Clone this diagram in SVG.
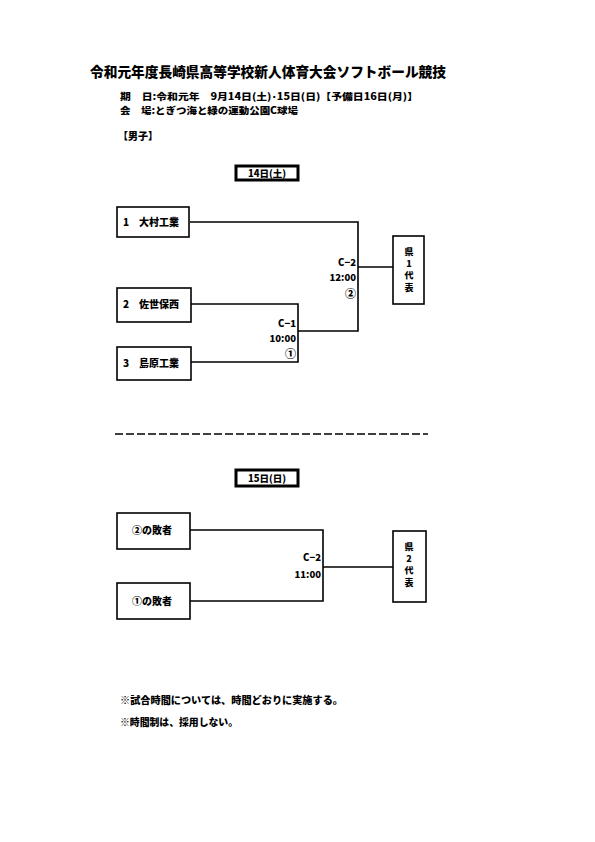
<svg xmlns="http://www.w3.org/2000/svg" width="595" height="842" viewBox="0 0 595 842">
<style>
text{font-family:"Noto Sans CJK JP","Liberation Sans",sans-serif;font-weight:900;fill:#000}
.t{font-size:14px}
.s{font-size:10px}
.h{font-size:9.5px}
.n{font-size:9.5px}
.v{font-size:9px}
.c{font-size:11px}
.box{fill:#fff;stroke:#000;stroke-width:1.6}
.day{fill:#fff;stroke:#000;stroke-width:3}
.ln{fill:none;stroke:#000;stroke-width:1.6}
.r{text-anchor:end}
.m{text-anchor:middle}
</style>
<rect width="595" height="842" fill="#fff"/>
<g id="header">
<text class="t" x="90" y="77" textLength="356" lengthAdjust="spacingAndGlyphs">令和元年度長崎県高等学校新人体育大会ソフトボール競技</text>
<text class="h" x="120" y="100" textLength="298" lengthAdjust="spacingAndGlyphs">期　日:令和元年　9月14日(土)･15日(日)【予備日16日(月)】</text>
<text class="h" x="120" y="114" textLength="178" lengthAdjust="spacingAndGlyphs">会　場:とぎつ海と緑の運動公園C球場</text>
<text class="s" x="118" y="140">【男子】</text>
</g>
<g id="day1">
<rect class="day" x="236" y="166" width="62" height="14"/>
<text class="n m" x="267" y="177">14日(土)</text>
</g>
<g id="connectors">
<polyline class="ln" points="190,222 358,222 358,331 298,331"/>
<polyline class="ln" points="191,304 298,304 298,362 191,362"/>
<line class="ln" x1="358" y1="267" x2="393" y2="267"/>
<polyline class="ln" points="190,530 323,530 323,601 190,601"/>
<line class="ln" x1="323" y1="567" x2="393" y2="567"/>
<line x1="115" y1="434" x2="428" y2="434" stroke="#000" stroke-width="1.6" stroke-dasharray="8,3"/>
</g>
<g id="team1">
<rect class="box" x="117" y="207" width="72" height="30"/>
<text class="s" x="123" y="226">1　大村工業</text>
</g>
<g id="team2">
<rect class="box" x="117" y="288" width="74" height="34"/>
<text class="s" x="123" y="308">2　佐世保西</text>
</g>
<g id="team3">
<rect class="box" x="117" y="347" width="74" height="33"/>
<text class="s" x="123" y="367">3　島原工業</text>
</g>
<g id="match1">
<text class="n r" x="296" y="327">C−1</text>
<text class="n r" x="296" y="342">10:00</text>
<text class="c r" x="296" y="358">①</text>
</g>
<g id="match2">
<text class="n r" x="356" y="266">C−2</text>
<text class="n r" x="356" y="281">12:00</text>
<text class="c r" x="356" y="298">②</text>
</g>
<g id="rep1">
<rect class="box" x="393" y="236" width="31" height="68"/>
<text class="v m" x="409" y="255">県</text>
<text class="v m" x="409" y="267">1</text>
<text class="v m" x="409" y="279">代</text>
<text class="v m" x="409" y="291">表</text>
</g>
<g id="day2">
<rect class="day" x="236" y="470" width="62" height="16"/>
<text class="n m" x="267" y="482">15日(日)</text>
</g>
<g id="loser2">
<rect class="box" x="117" y="513" width="73" height="36"/>
<text class="s m" x="152" y="534">②の敗者</text>
</g>
<g id="loser1">
<rect class="box" x="117" y="583" width="73" height="36"/>
<text class="s m" x="152" y="605">①の敗者</text>
</g>
<g id="match3">
<text class="n r" x="321" y="561">C−2</text>
<text class="n r" x="321" y="578">11:00</text>
</g>
<g id="rep2">
<rect class="box" x="393" y="531" width="33" height="71"/>
<text class="v m" x="409" y="550">県</text>
<text class="v m" x="409" y="562">2</text>
<text class="v m" x="409" y="574">代</text>
<text class="v m" x="409" y="586">表</text>
</g>
<g id="notes">
<text class="s" x="120" y="704" textLength="223" lengthAdjust="spacingAndGlyphs">※試合時間については、時間どおりに実施する。</text>
<text class="s" x="120" y="726" textLength="118" lengthAdjust="spacingAndGlyphs">※時間制は、採用しない。</text>
</g>
</svg>
